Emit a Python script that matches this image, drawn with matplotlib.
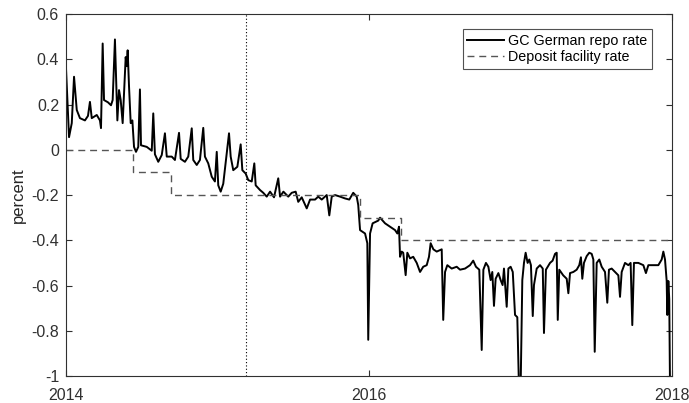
import matplotlib
matplotlib.use("Agg")
import matplotlib.pyplot as plt
from matplotlib.ticker import FormatStrFormatter

plt.rcParams['font.family'] = ['Liberation Sans', 'DejaVu Sans']
plt.rcParams['axes.unicode_minus'] = False

# GC German repo rate (years after 2014, percent)
repo_t = [
    0.000, 0.020, 0.038, 0.053, 0.071, 0.092, 0.125, 0.145, 0.158, 0.170,
    0.203, 0.224, 0.231, 0.242, 0.251, 0.277, 0.297, 0.308, 0.323, 0.335,
    0.339, 0.350, 0.361, 0.374, 0.385, 0.394, 0.401, 0.407, 0.416, 0.427,
    0.438, 0.449, 0.462, 0.477, 0.488, 0.495, 0.533, 0.566, 0.576, 0.587,
    0.609, 0.632, 0.653, 0.665, 0.698, 0.719, 0.746, 0.757, 0.785, 0.807,
    0.830, 0.840, 0.863, 0.884, 0.906, 0.917, 0.939, 0.962, 0.983, 0.995,
    1.005, 1.021, 1.038, 1.056, 1.076, 1.087, 1.104, 1.131, 1.153, 1.164,
    1.186, 1.203, 1.226, 1.243, 1.252, 1.281, 1.302, 1.325, 1.347, 1.373,
    1.401, 1.413, 1.435, 1.467, 1.490, 1.516, 1.533, 1.556, 1.589, 1.611,
    1.644, 1.665, 1.688, 1.721, 1.738, 1.754, 1.776, 1.809, 1.842, 1.870,
    1.896, 1.919, 1.929, 1.941, 1.974, 1.989, 1.995, 2.007, 2.024, 2.061,
    2.073, 2.106, 2.139, 2.172, 2.187, 2.198, 2.205, 2.216, 2.226, 2.242,
    2.253, 2.271, 2.292, 2.315, 2.337, 2.358, 2.381, 2.396, 2.407, 2.425,
    2.447, 2.480, 2.490, 2.502, 2.517, 2.546, 2.579, 2.601, 2.634, 2.667,
    2.688, 2.706, 2.728, 2.744, 2.755, 2.772, 2.788, 2.803, 2.814, 2.825,
    2.836, 2.854, 2.869, 2.882, 2.891, 2.909, 2.920, 2.935, 2.949, 2.964,
    2.979, 2.990, 3.001, 3.012, 3.023, 3.034, 3.047, 3.058, 3.069, 3.081,
    3.089, 3.107, 3.129, 3.147, 3.155, 3.168, 3.195, 3.212, 3.228, 3.239,
    3.246, 3.256, 3.282, 3.305, 3.316, 3.327, 3.349, 3.371, 3.388, 3.399,
    3.408, 3.419, 3.437, 3.454, 3.470, 3.481, 3.490, 3.503, 3.520, 3.536,
    3.558, 3.573, 3.584, 3.602, 3.624, 3.646, 3.657, 3.668, 3.690, 3.712,
    3.727, 3.738, 3.749, 3.778, 3.811, 3.828, 3.844, 3.877, 3.910, 3.932,
    3.943, 3.954, 3.965, 3.969, 3.976, 3.982, 3.987, 3.995,
]
repo_v = [
    0.360, 0.056, 0.118, 0.323, 0.176, 0.140, 0.130, 0.150, 0.212, 0.140,
    0.154, 0.130, 0.096, 0.470, 0.220, 0.210, 0.197, 0.220, 0.488, 0.220,
    0.130, 0.264, 0.220, 0.118, 0.279, 0.410, 0.370, 0.440, 0.280, 0.118,
    0.130, 0.013, -0.009, 0.013, 0.267, 0.020, 0.013, -0.004, 0.161, -0.020,
    -0.053, -0.023, 0.073, -0.030, -0.030, -0.045, 0.075, -0.040, -0.053, -0.030,
    0.095, -0.045, -0.067, -0.045, 0.097, -0.030, -0.060, -0.119, -0.140, -0.009,
    -0.157, -0.185, -0.150, -0.045, 0.073, -0.030, -0.090, -0.075, 0.024, -0.090,
    -0.105, -0.134, -0.140, -0.060, -0.157, -0.178, -0.190, -0.207, -0.185, -0.210,
    -0.126, -0.207, -0.185, -0.207, -0.190, -0.185, -0.230, -0.210, -0.259, -0.220,
    -0.220, -0.207, -0.220, -0.200, -0.290, -0.207, -0.200, -0.207, -0.215, -0.220,
    -0.190, -0.207, -0.244, -0.355, -0.370, -0.413, -0.840, -0.370, -0.325, -0.313,
    -0.300, -0.325, -0.340, -0.355, -0.370, -0.340, -0.473, -0.450, -0.455, -0.554,
    -0.455, -0.480, -0.473, -0.500, -0.540, -0.517, -0.510, -0.473, -0.413, -0.440,
    -0.450, -0.440, -0.752, -0.540, -0.510, -0.525, -0.517, -0.530, -0.525, -0.510,
    -0.490, -0.517, -0.530, -0.885, -0.530, -0.500, -0.517, -0.576, -0.540, -0.690,
    -0.570, -0.545, -0.576, -0.598, -0.525, -0.694, -0.525, -0.517, -0.540, -0.730,
    -0.740, -1.050, -1.050, -0.576, -0.500, -0.455, -0.500, -0.485, -0.510, -0.735,
    -0.598, -0.525, -0.510, -0.525, -0.810, -0.530, -0.500, -0.490, -0.460, -0.455,
    -0.752, -0.530, -0.555, -0.570, -0.634, -0.545, -0.540, -0.530, -0.510, -0.475,
    -0.570, -0.500, -0.470, -0.455, -0.460, -0.485, -0.893, -0.500, -0.485, -0.517,
    -0.540, -0.676, -0.530, -0.525, -0.540, -0.555, -0.650, -0.540, -0.500, -0.510,
    -0.500, -0.775, -0.500, -0.500, -0.510, -0.545, -0.510, -0.510, -0.510, -0.485,
    -0.450, -0.485, -0.580, -0.730, -0.580, -0.660, -1.050, -1.050,
]

# ECB deposit facility rate (step changes)
dfr_t = [2014.0, 2014.44, 2014.69, 2015.94, 2016.21, 2018.0]
dfr_v = [0.0, -0.1, -0.2, -0.3, -0.4, -0.4]

pspp_start = 2015.19
x_ticks = [2014, 2016, 2018]
y_ticks = [-1, -0.8, -0.6, -0.4, -0.2, 0, 0.2, 0.4, 0.6]

fig = plt.figure(figsize=(6.89, 4.03), dpi=100)
ax = fig.add_axes([0.0958, 0.067, 0.8795, 0.898])

ax.plot([2014 + t for t in repo_t], repo_v, color='black', lw=1.4,
        label='GC German repo rate')
ax.plot(dfr_t, dfr_v, color='#555555', lw=1.0, dashes=(5, 3.5),
        drawstyle='steps-post', label='Deposit facility rate')
ax.axvline(pspp_start, color='black', lw=0.8, linestyle=(0, (1, 2)))

ax.set_xlim(2014, 2018)
ax.set_ylim(-1, 0.6)
ax.set_xticks(x_ticks)
ax.set_yticks(y_ticks)
ax.yaxis.set_major_formatter(FormatStrFormatter('%g'))
ax.tick_params(direction='in', length=4, width=0.8, top=True, right=True,
               labelsize=11.5, colors='#303030')
ax.tick_params(axis='x', pad=9)
ax.tick_params(axis='y', pad=5)
for s in ax.spines.values():
    s.set_color('#303030')
    s.set_linewidth(0.8)
ax.set_ylabel('percent', fontsize=12, color='#262626', labelpad=4)

leg = ax.legend(loc='upper right', bbox_to_anchor=(0.974, 0.97), fontsize=10.3,
                frameon=True, fancybox=False, borderpad=0.3, labelspacing=0.2,
                handlelength=2.6, handletextpad=0.3, borderaxespad=0.3)
leg.get_frame().set_edgecolor('#262626')
leg.get_frame().set_linewidth(0.8)

fig.savefig('out.png', dpi=100)
